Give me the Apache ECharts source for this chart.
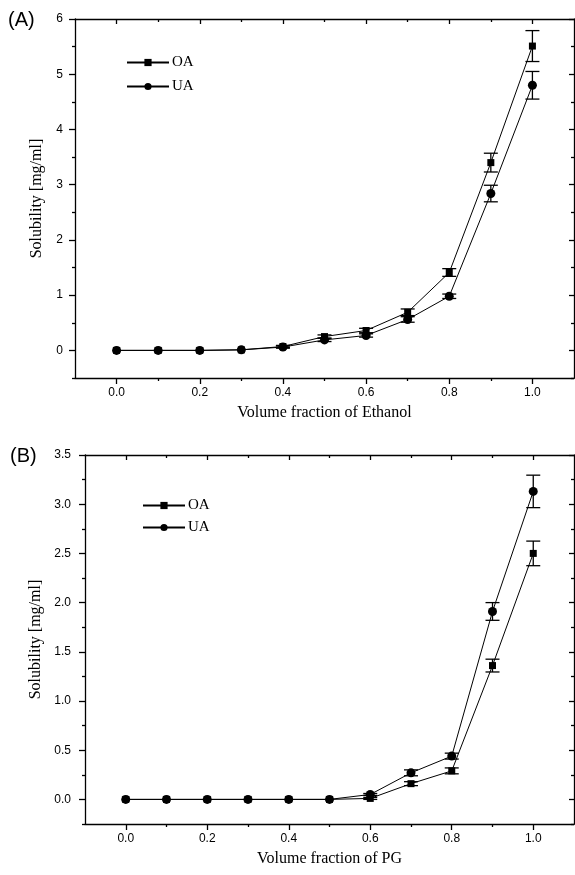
<!DOCTYPE html>
<html>
<head>
<meta charset="utf-8">
<script src="https://cdn.jsdelivr.net/npm/echarts@6/dist/echarts.min.js"></script>
<style>
html,body{margin:0;padding:0;background:#fff;}
#chart{width:575px;height:875px;}
</style>
</head>
<body>
<div id="chart"></div>
<script>
// ---- Data ----
const fractions = [0, 0.1, 0.2, 0.3, 0.4, 0.5, 0.6, 0.7, 0.8, 0.9, 1.0];

// Panel A: Ethanol
const oaEthanol    = [0, 0, 0, 0.01, 0.07, 0.25, 0.36, 0.69, 1.41, 3.40, 5.51];
const oaEthanolErr = [0, 0, 0, 0, 0.02, 0.03, 0.04, 0.06, 0.07, 0.17, 0.28];
const uaEthanol    = [0, 0, 0, 0.01, 0.06, 0.19, 0.27, 0.56, 0.98, 2.84, 4.80];
const uaEthanolErr = [0, 0, 0, 0, 0.02, 0.03, 0.03, 0.05, 0.04, 0.15, 0.25];

// Panel B: PG
const oaPG    = [0, 0, 0, 0, 0, 0, 0.01, 0.16, 0.29, 1.36, 2.50];
const oaPGErr = [0, 0, 0, 0, 0, 0, 0.01, 0.02, 0.03, 0.065, 0.125];
const uaPG    = [0, 0, 0, 0, 0, 0, 0.05, 0.27, 0.44, 1.91, 3.13];
const uaPGErr = [0, 0, 0, 0, 0, 0, 0.01, 0.03, 0.03, 0.09, 0.165];

// Tick values
const xMajorTicks = [0, 0.2, 0.4, 0.6, 0.8, 1.0];
const xMinorTicks = [0.1, 0.3, 0.5, 0.7, 0.9];
const yMajorTicksA = [0, 1, 2, 3, 4, 5, 6];
const yMinorTicksA = [-0.5, 0.5, 1.5, 2.5, 3.5, 4.5, 5.5];
const yMajorTicksB = [0, 0.5, 1.0, 1.5, 2.0, 2.5, 3.0, 3.5];
const yMinorTicksB = [-0.25, 0.25, 0.75, 1.25, 1.75, 2.25, 2.75, 3.25];

const seriesNames = ['OA', 'UA'];
const xTitleA = 'Volume fraction of Ethanol';
const xTitleB = 'Volume fraction of PG';
const yTitle = 'Solubility [mg/ml]';

// ---- Chart ----
const SERIF = '"Liberation Serif", "DejaVu Serif", serif';
const SANS = '"Liberation Sans", Arial, sans-serif';
const chart = echarts.init(document.getElementById('chart'), null, {renderer: 'canvas'});

const lineStyle = {color: '#000', width: 1.3};

function xAxesFor(grid, min, max, name) {
  const base = {type: 'value', gridIndex: grid, min: min, max: max, splitLine: {show: false}};
  return [
    Object.assign({}, base, {
      position: 'bottom',
      name: name, nameLocation: 'middle', nameGap: 27,
      nameTextStyle: {fontFamily: SERIF, fontSize: 16, color: '#000'},
      axisLine: {show: true, onZero: false, lineStyle: lineStyle},
      axisTick: {show: true, inside: false, length: 6, customValues: xMajorTicks, lineStyle: lineStyle},
      axisLabel: {show: true, customValues: xMajorTicks, margin: 9, fontFamily: SANS, fontSize: 12, color: '#000',
        formatter: v => Number(v).toFixed(1)}
    }),
    Object.assign({}, base, {
      position: 'bottom',
      axisLine: {show: false, onZero: false},
      axisTick: {show: true, inside: false, length: 3, customValues: xMinorTicks, lineStyle: lineStyle},
      axisLabel: {show: false}
    }),
    Object.assign({}, base, {
      position: 'top',
      axisLine: {show: true, onZero: false, lineStyle: lineStyle},
      axisTick: {show: true, inside: true, length: 5, customValues: xMajorTicks, lineStyle: lineStyle},
      axisLabel: {show: false}
    }),
    Object.assign({}, base, {
      position: 'top',
      axisLine: {show: false, onZero: false},
      axisTick: {show: true, inside: true, length: 3, customValues: xMinorTicks, lineStyle: lineStyle},
      axisLabel: {show: false}
    })
  ];
}

function yAxesFor(grid, min, max, majors, minors, fmt, margin, nameGap) {
  const base = {type: 'value', gridIndex: grid, min: min, max: max, splitLine: {show: false}};
  return [
    Object.assign({}, base, {
      position: 'left',
      name: yTitle, nameLocation: 'middle', nameGap: nameGap,
      nameTextStyle: {fontFamily: SERIF, fontSize: 16, color: '#000'},
      axisLine: {show: true, onZero: false, lineStyle: lineStyle},
      axisTick: {show: true, inside: false, length: 6, customValues: majors, lineStyle: lineStyle},
      axisLabel: {show: true, customValues: majors, margin: margin, fontFamily: SANS, fontSize: 12, color: '#000',
        formatter: fmt}
    }),
    Object.assign({}, base, {
      position: 'left',
      axisLine: {show: false, onZero: false},
      axisTick: {show: true, inside: false, length: 3, customValues: minors, lineStyle: lineStyle},
      axisLabel: {show: false}
    }),
    Object.assign({}, base, {
      position: 'right',
      axisLine: {show: true, onZero: false, lineStyle: lineStyle},
      axisTick: {show: true, inside: true, length: 5, customValues: majors, lineStyle: lineStyle},
      axisLabel: {show: false}
    }),
    Object.assign({}, base, {
      position: 'right',
      axisLine: {show: false, onZero: false},
      axisTick: {show: true, inside: true, length: 3, customValues: minors, lineStyle: lineStyle},
      axisLabel: {show: false}
    })
  ];
}

function pairs(xs, ys) { return xs.map((x, i) => [x, ys[i]]); }
function errTriples(xs, ys, es) {
  return xs.map((x, i) => [x, ys[i], es[i]]).filter(d => d[2] > 0);
}

function lineSeries(name, symbol, size, data, xi, yi) {
  return {
    type: 'line', name: name, xAxisIndex: xi, yAxisIndex: yi,
    data: data, symbol: symbol, symbolSize: size, showSymbol: true,
    lineStyle: {color: '#000', width: 1},
    itemStyle: {color: '#000'},
    z: 3
  };
}

function errorSeries(data, xi, yi) {
  return {
    type: 'custom', xAxisIndex: xi, yAxisIndex: yi, silent: true, z: 4,
    data: data,
    renderItem: function (params, api) {
      const x = api.value(0), y = api.value(1), e = api.value(2);
      const top = api.coord([x, y + e]);
      const bot = api.coord([x, y - e]);
      const hw = 7;
      const st = {stroke: '#000', lineWidth: 1.3};
      return {
        type: 'group',
        children: [
          {type: 'line', shape: {x1: top[0], y1: top[1], x2: bot[0], y2: bot[1]}, style: st},
          {type: 'line', shape: {x1: top[0] - hw, y1: top[1], x2: top[0] + hw, y2: top[1]}, style: st},
          {type: 'line', shape: {x1: bot[0] - hw, y1: bot[1], x2: bot[0] + hw, y2: bot[1]}, style: st}
        ]
      };
    }
  };
}

const xAxes = xAxesFor(0, -0.1, 1.1, xTitleA).concat(xAxesFor(1, -0.1, 1.1, xTitleB));
const yAxes = yAxesFor(0, -0.5, 6, yMajorTicksA, yMinorTicksA, v => String(v), 12, 30)
  .concat(yAxesFor(1, -0.25, 3.5, yMajorTicksB, yMinorTicksB, v => Number(v).toFixed(1), 14, 40));

const option = {
  animation: false,
  backgroundColor: '#fff',
  grid: [
    {left: 75, right: 1, top: 19, height: 359, containLabel: false},
    {left: 85, right: 1, top: 455, height: 369, containLabel: false}
  ],
  xAxis: xAxes,
  yAxis: yAxes,
  legend: [
    {
      data: seriesNames, orient: 'vertical', left: 121, top: 50, itemGap: 9,
      itemWidth: 42, itemHeight: 9, selectedMode: false,
      textStyle: {fontFamily: SERIF, fontSize: 15, color: '#000', padding: [0, 0, 0, -2]}
    },
    {
      data: seriesNames, orient: 'vertical', left: 137, top: 493, itemGap: 7,
      itemWidth: 42, itemHeight: 9, selectedMode: false,
      textStyle: {fontFamily: SERIF, fontSize: 15, color: '#000', padding: [0, 0, 0, -2]}
    }
  ],
  graphic: [
    {type: 'text', left: 8, top: 10, style: {text: '(A)', font: '20px ' + SANS, fill: '#000'}},
    {type: 'text', left: 10, top: 446, style: {text: '(B)', font: '20px ' + SANS, fill: '#000'}}
  ],
  series: [
    lineSeries(seriesNames[0], 'rect', 7, pairs(fractions, oaEthanol), 0, 0),
    lineSeries(seriesNames[1], 'circle', 9, pairs(fractions, uaEthanol), 0, 0),
    errorSeries(errTriples(fractions, oaEthanol, oaEthanolErr), 0, 0),
    errorSeries(errTriples(fractions, uaEthanol, uaEthanolErr), 0, 0),
    lineSeries(seriesNames[0], 'rect', 7, pairs(fractions, oaPG), 4, 4),
    lineSeries(seriesNames[1], 'circle', 9, pairs(fractions, uaPG), 4, 4),
    errorSeries(errTriples(fractions, oaPG, oaPGErr), 4, 4),
    errorSeries(errTriples(fractions, uaPG, uaPGErr), 4, 4)
  ]
};
chart.setOption(option);
</script>
</body>
</html>
